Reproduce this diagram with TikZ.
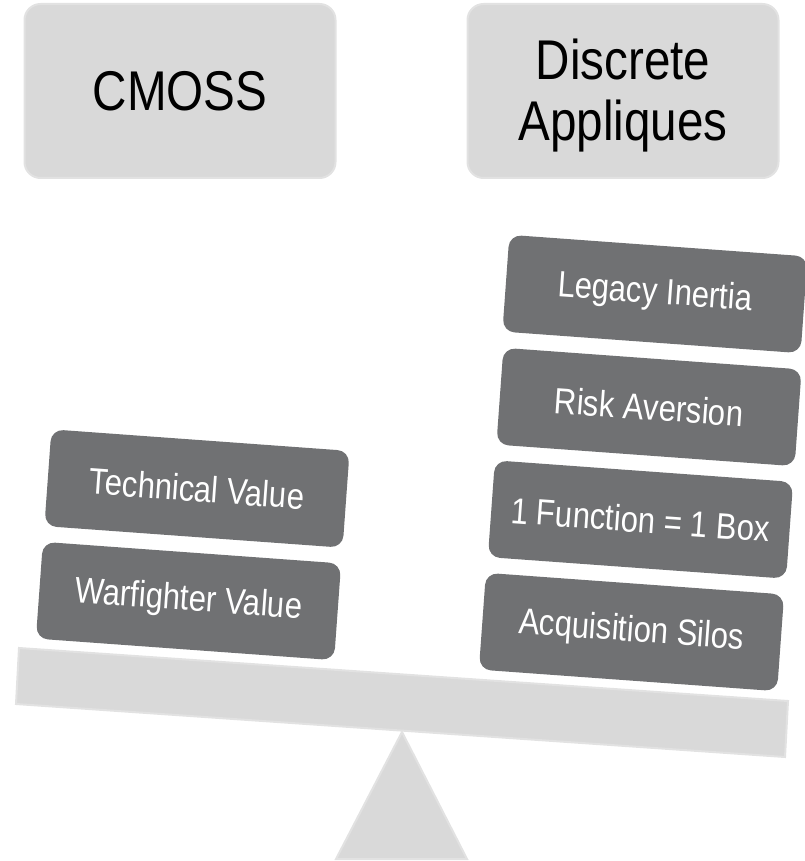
\documentclass[tikz,border=0pt]{standalone}
\usepackage{fontspec}
\setmainfont{Liberation Sans}
\newfontfamily\narrowsans[FakeStretch=0.85]{Liberation Sans}
\definecolor{hdrfill}{HTML}{D9D9D9}
\definecolor{hdredge}{HTML}{E2E2E2}
\definecolor{darkbox}{HTML}{707173}
\tikzset{
 x=1pt,y=-1pt,
 hdr/.style={draw=hdredge,line width=2pt,fill=hdrfill,rounded corners=16pt,minimum width=311pt,minimum height=174pt,align=center,text=black,font=\narrowsans\fontsize{56}{60}\selectfont},
 weight/.style={fill=darkbox,rounded corners=12pt,minimum width=299pt,minimum height=97pt,text=white,font=\narrowsans\fontsize{36.5}{40}\selectfont,rotate=-4.15,inner sep=0pt},
 plank/.style={draw=hdredge,line width=2pt,fill=hdrfill}
}
\begin{document}
\begin{tikzpicture}
\useasboundingbox (0,0) rectangle (804,861);
\node[hdr] (cmoss) at (180,91) {CMOSS};
\node[hdr] (disc) at (623,91) {\rule{0pt}{49pt}Discrete\\[1pt]Appliques};
\node[weight] (w1) at (197,488.5) {Technical Value};
\node[weight] (w2) at (188.5,601) {Warfighter Value};
\node[weight] (w3) at (655,294) {Legacy Inertia};
\node[weight] (w4) at (649,407) {Risk Aversion};
\node[weight] (w5) at (640.5,519.5) {1 Function = 1 Box};
\node[weight] (w6) at (631.5,632) {Acquisition Silos};
\draw[plank] (19,648) -- (788,701) -- (785,757) -- (16,704) -- cycle;
\draw[plank] (402,732) -- (467,859) -- (336,859) -- cycle;
\end{tikzpicture}
\end{document}
